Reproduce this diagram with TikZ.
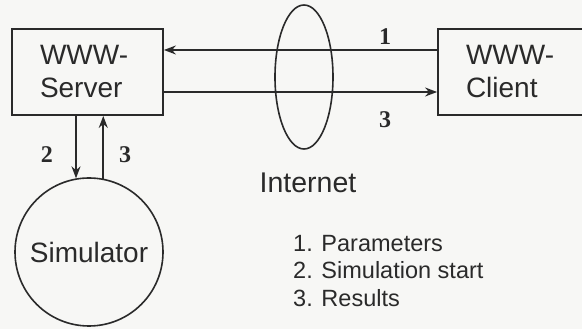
\documentclass[tikz,border=0pt]{standalone}
\usepackage{fontspec}
\setmainfont{Liberation Sans}
\newfontfamily\numfont{Liberation Serif}
\usetikzlibrary{arrows.meta, positioning, shapes.geometric}
\definecolor{ink}{HTML}{2A2A2A}
\definecolor{paper}{HTML}{F7F7F5}

\begin{document}
\begin{tikzpicture}[
    x=1pt, y=1pt,
    box/.style={draw=ink, line width=1.8pt, minimum width=151pt, minimum height=86pt, text width=95pt, align=left, inner sep=0pt, text=ink, font=\fontsize{28}{33}\selectfont},
    sim/.style={draw=ink, circle, line width=1.6pt, minimum size=148pt, inner sep=0pt, text=ink, font=\fontsize{28}{33}\selectfont},
    net/.style={draw=ink, ellipse, line width=1.6pt, minimum width=58pt, minimum height=144pt, inner sep=0pt},
    num/.style={text=ink, inner sep=0pt, font=\numfont\bfseries\fontsize{24}{28}\selectfont},
    arrow/.style={-{Stealth[length=12pt, width=9pt]}, line width=1.6pt, draw=ink}
]
    \path[use as bounding box, fill=paper] (0,0) rectangle (582,329);

    \node[box] (srv) at (87.5,257) {WWW-\\Server};
    \node[box] (cli) at (513.5,257) {WWW-\\Client};
    \node[net] (web) at (304,252) {};
    \node[sim] (simu) at (89,77) {Simulator};

    \node[text=ink, inner sep=0pt, anchor=base, font=\fontsize{28.5}{33}\selectfont] (inet) at (308,136) {Internet};
    \node[text=ink, inner sep=0pt, anchor=north west, align=left, font=\fontsize{23.5}{27.5}\selectfont] (key) at (293,94)
        {1. Parameters\\2. Simulation start\\3. Results};

    \draw[arrow] ([yshift=22pt]cli.west) -- ([yshift=22pt]srv.east);
    \draw[arrow] ([yshift=-20pt]srv.east) -- ([yshift=-20pt]cli.west);
    \draw[arrow] (srv.south -| simu.100.9) -- (simu.100.9);
    \draw[arrow] (simu.79.1) -- (srv.south -| simu.79.1);

    \node[num, anchor=base] (n1) at (385,284) {1};
    \node[num, anchor=base] (n3a) at (385,201) {3};
    \node[num, anchor=base] (n2) at (47,166) {2};
    \node[num, anchor=base] (n3b) at (125,166) {3};
\end{tikzpicture}
\end{document}
